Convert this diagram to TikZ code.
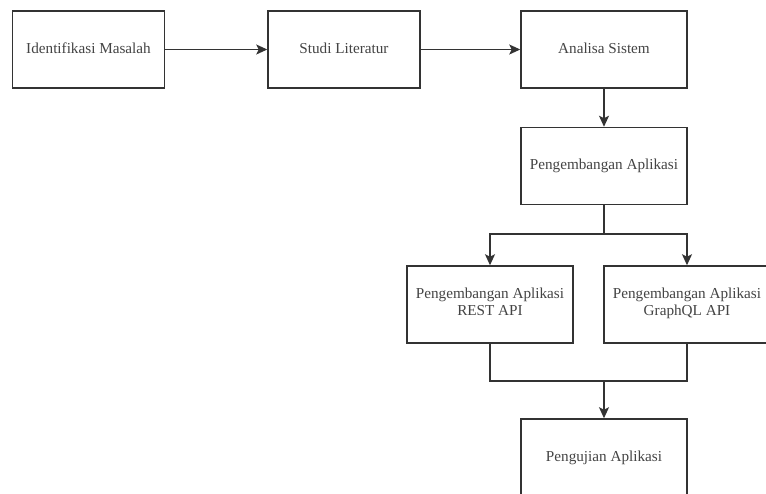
\documentclass[tikz,border=0pt]{standalone}
\usepackage{fontspec}
\setmainfont{Liberation Serif}
\usepackage{tikz}
\usetikzlibrary{positioning, arrows.meta}
\definecolor{garis}{HTML}{333333}
\definecolor{teks}{HTML}{444444}
\tikzset{
	prosesnode/.style={
			rectangle,
			draw=garis,
			line width=1.5pt,
			fill=white,
			minimum width=166pt,
			minimum height=77pt,
			inner sep=0pt,
			align=center,
			text=teks,
			execute at begin node=\strut,
			execute at end node=\strut,
			font=\fontsize{15.2pt}{17.5pt}\selectfont
		},
	atasnode/.style={
			prosesnode,
			minimum width=152pt
		},
	panah/.style={
			-{Stealth[length=11pt,width=10pt,inset=2.5pt]},
			draw=garis,
			line width=1.4pt
		},
	garisjalur/.style={
			draw=garis,
			line width=1.4pt
		}
}

\begin{document}
\begin{tikzpicture}[x=1pt, y=-1pt]
        \useasboundingbox (0,0) rectangle (766,493);
        \clip (0,0) rectangle (766,493);

        \node[atasnode] at (88.5,49.5) (ident) {Identifikasi Masalah};
        \node[atasnode, right = 102pt of ident] (studi) {Studi Literatur};
        \node[prosesnode] at (604,49.5) (analisa) {Analisa Sistem};
        \node[prosesnode, below = 38pt of analisa] (pengembangan) {Pengembangan Aplikasi};

        \node[prosesnode] at (490,304.5) (rest) {Pengembangan Aplikasi\\REST API};
        \node[prosesnode] at (687,304.5) (graphql) {Pengembangan Aplikasi\\GraphQL API};

        \node[prosesnode] at (604,457.5) (pengujian) {Pengujian Aplikasi};

        \coordinate (cabang) at (604,234);
        \coordinate (gabung) at (604,381);

        \draw[panah] (ident) -- (studi);
        \draw[panah] (studi) -- (analisa);
        \draw[panah] (analisa) -- (pengembangan);

        \draw[garisjalur] (pengembangan.south) -- (cabang);
        \draw[panah] (cabang) -| (rest.north);
        \draw[panah] (cabang) -| (graphql.north);

        \draw[garisjalur] (rest.south) |- (gabung);
        \draw[garisjalur] (graphql.south) |- (gabung);
        \draw[panah] (gabung) -- (pengujian.north);
      \end{tikzpicture}
\end{document}
